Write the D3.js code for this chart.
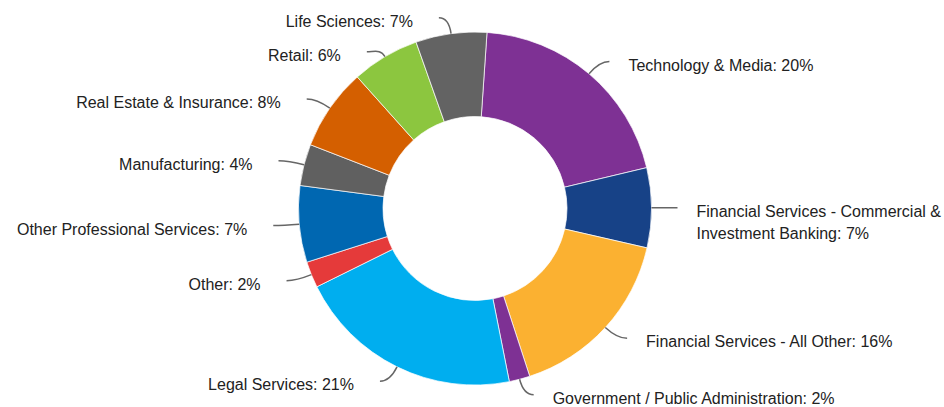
<!DOCTYPE html>
<html>
<head>
<meta charset="utf-8">
<script src="https://cdn.jsdelivr.net/npm/d3@7"></script>
<style>
  body { margin: 0; background: #fff; }
  svg { display: block; }
  .label { font-family: "Liberation Sans", Arial, sans-serif; font-size: 16px; fill: #222; }
  .connector { fill: none; stroke: #666; stroke-width: 1.5; }
</style>
</head>
<body>
<svg id="chart" width="944" height="407"></svg>
<script>
// industry share, clockwise from the top
const categories = [
  "Technology & Media",
  "Financial Services - Commercial & Investment Banking",
  "Financial Services - All Other",
  "Government / Public Administration",
  "Legal Services",
  "Other",
  "Other Professional Services",
  "Manufacturing",
  "Real Estate & Insurance",
  "Retail",
  "Life Sciences"
];
const shares = [20.2, 7.3, 16.4, 1.9, 20.8, 2.4, 7.0, 3.8, 7.5, 6.2, 6.5];
const colors = ["#7e3194", "#174287", "#fbb131", "#7e3194", "#00aeef", "#e53a3a",
                "#0067b1", "#606060", "#d45f00", "#8cc63f", "#636363"];

const width = 944, height = 407;
const cx = 475, cy = 208.5;
const outerR = 176.5, innerR = 92;
const offset = 3.9 * Math.PI / 180;

const svg = d3.select("#chart");
const g = svg.append("g").attr("transform", `translate(${cx},${cy})`);

const data = categories.map((c, i) => ({ name: c, value: shares[i], color: colors[i] }));

const pie = d3.pie()
    .value(d => d.value)
    .sort(null)
    .startAngle(offset)
    .endAngle(2 * Math.PI + offset);

const arc = d3.arc().innerRadius(innerR).outerRadius(outerR);

const arcs = pie(data);

g.selectAll("path.slice")
    .data(arcs)
    .enter()
    .append("path")
    .attr("class", "slice")
    .attr("d", arc)
    .attr("fill", d => d.data.color)
    .attr("stroke", "#fff")
    .attr("stroke-width", 0.7);

// label layout: natural position just outside the ring, then spread apart per side
const polar = (r, a) => [r * Math.sin(a), -r * Math.cos(a)];

const labels = arcs.map(d => {
  const mid = (d.startAngle + d.endAngle) / 2;
  const right = Math.sin(mid) > 0;
  const edge = polar(outerR, mid);
  const out = polar(outerR + 16, mid);
  return { d, mid, right, edge, x: out[0] + (right ? 10 : -10), y: out[1] };
});

const minGap = 34;
[true, false].forEach(side => {
  const list = labels.filter(l => l.right === side).sort((a, b) => a.y - b.y);
  for (let i = 1; i < list.length; i++) {
    if (list[i].y - list[i - 1].y < minGap) list[i].y = list[i - 1].y + minGap;
  }
});

// connectors
g.selectAll("path.connector")
    .data(labels)
    .enter()
    .append("path")
    .attr("class", "connector")
    .attr("d", l => {
      const c1 = polar(outerR + 9, l.mid);
      const c2x = l.x + (l.right ? -8 : 8);
      return `M${l.edge[0]},${l.edge[1]} C${c1[0]},${c1[1]} ${c2x},${l.y} ${l.x},${l.y}`;
    });

// text labels, wrapped if they run past the right edge
labels.forEach(l => {
  const tx = l.x + (l.right ? 19 : -26);
  const str = `${l.d.data.name}: ${Math.round(l.d.data.value)}%`;
  const text = g.append("text")
      .attr("class", "label")
      .attr("text-anchor", l.right ? "start" : "end")
      .attr("x", tx)
      .attr("y", l.y + 9);

  const maxW = l.right ? (width - cx - tx) : (cx + tx);
  const words = str.split(" ");
  let line = [];
  let tspan = text.append("tspan").attr("x", tx);
  words.forEach(w => {
    line.push(w);
    tspan.text(line.join(" "));
    if (tspan.node().getComputedTextLength() > maxW && line.length > 1) {
      line.pop();
      tspan.text(line.join(" "));
      line = [w];
      tspan = text.append("tspan").attr("x", tx).attr("dy", 22).text(w);
    }
  });
});
</script>
</body>
</html>
